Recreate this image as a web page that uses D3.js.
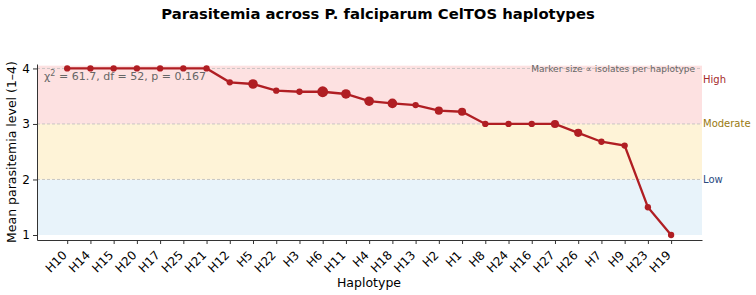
<!DOCTYPE html>
<html>
<head>
<meta charset="utf-8">
<script src="https://cdn.jsdelivr.net/npm/d3@7"></script>
<style>
  body { margin: 0; background: #fff; }
  text { font-family: "DejaVu Sans", sans-serif; }
</style>
</head>
<body>
<div id="chart"></div>
<script>
var haplotypes = ["H10","H14","H15","H20","H17","H25","H21","H12","H5","H22","H3","H6","H11","H4","H18","H13","H2","H1","H8","H24","H16","H27","H26","H7","H9","H23","H19"];
var meanLevel = [4,4,4,4,4,4,4,3.75,3.72,3.6,3.58,3.58,3.54,3.41,3.37,3.34,3.24,3.22,3,3,3,3,2.84,2.68,2.61,1.5,1];
var isolates = [1,1,1,1,1,1,1,1,3,1,1,4,3,3,3,1,2,2,1,1,1,2,2,1,1,1,1];
var bandNames = ["Low","Moderate","High"];
var bandRanges = [[1,2],[2,3],[3,4.05]];
var yTicks = [1,2,3,4];

var W = 756, H = 295;
var margin = {top: 64, right: 54, bottom: 55, left: 37},
    width = W - margin.left - margin.right,
    height = H - margin.top - margin.bottom;

var svg = d3.select("#chart")
  .append("svg")
  .attr("width", W)
  .attr("height", H);

svg.append("text")
  .attr("x", 378).attr("y", 19)
  .attr("text-anchor", "middle")
  .attr("font-size", 14.8).attr("font-weight", "bold")
  .text("Parasitemia across P. falciparum CelTOS haplotypes");

var g = svg.append("g")
  .attr("transform", "translate(" + margin.left + "," + margin.top + ")");

var x = d3.scaleLinear()
  .domain([-1.3, haplotypes.length - 1 + 1.33])
  .range([0, width]);

var y = d3.scaleLinear()
  .domain([0.91, 4.08])
  .range([height, 0]);

var bandFill = ["#e8f3fa", "#fef3d7", "#fde1e1"];
var bandText = ["#2a4a7f", "#9a7a10", "#a52a2a"];

g.selectAll(".band")
  .data(bandRanges)
  .enter().append("rect")
  .attr("x", 0).attr("width", width)
  .attr("y", function(d) { return y(d[1]); })
  .attr("height", function(d) { return y(d[0]) - y(d[1]); })
  .attr("fill", function(d, i) { return bandFill[i]; });

g.selectAll(".grid")
  .data([2,3,4])
  .enter().append("line")
  .attr("x1", 0).attr("x2", width)
  .attr("y1", function(d) { return y(d); })
  .attr("y2", function(d) { return y(d); })
  .attr("stroke", "#bbb").attr("stroke-width", 0.8)
  .attr("stroke-dasharray", "3,2");

// band labels on the right
g.selectAll(".bandlab")
  .data(bandNames)
  .enter().append("text")
  .attr("x", width + 1)
  .attr("y", function(d, i) { return i == 2 ? y(3.8) : y(bandRanges[i][0] + 1); })
  .attr("dy", "0.35em")
  .attr("font-size", 10)
  .attr("fill", function(d, i) { return bandText[i]; })
  .text(function(d) { return d; });

g.append("path")
  .datum(meanLevel)
  .attr("fill", "none")
  .attr("stroke", "#b01e23")
  .attr("stroke-width", 2.3)
  .attr("d", d3.line()
    .x(function(d, i) { return x(i); })
    .y(function(d) { return y(d); }));

g.append("g")
  .selectAll("circle")
  .data(meanLevel)
  .enter().append("circle")
  .attr("cx", function(d, i) { return x(i); })
  .attr("cy", function(d) { return y(d); })
  .attr("r", function(d, i) { return Math.sqrt(3.5 + 6.5 * isolates[i]); })
  .attr("fill", "#b01e23");

var xAxis = g.append("g")
  .attr("transform", "translate(0," + height + ")")
  .call(d3.axisBottom(x).tickValues(d3.range(haplotypes.length))
    .tickFormat(function(i) { return haplotypes[i]; })
    .tickSize(4).tickSizeOuter(0));
xAxis.select(".domain").attr("stroke", "#333");
xAxis.selectAll(".tick line").attr("stroke", "#333");
xAxis.selectAll("text")
  .attr("font-size", 12)
  .attr("fill", "#000")
  .attr("text-anchor", "end")
  .attr("x", 0).attr("y", 0)
  .attr("dy", "0.35em")
  .attr("transform", "translate(-3,13) rotate(-45)");

var yAxis = g.append("g")
  .call(d3.axisLeft(y).tickValues(yTicks).tickFormat(d3.format("d"))
    .tickSize(4).tickSizeOuter(0));
yAxis.select(".domain").attr("stroke", "#333");
yAxis.selectAll(".tick line").attr("stroke", "#333");
yAxis.selectAll("text").attr("font-size", 12).attr("fill", "#000");

g.append("text")
  .attr("x", 7).attr("y", 16)
  .attr("font-size", 11)
  .attr("fill", "#666")
  .html("χ<tspan dy='-4' font-size='8'>2</tspan><tspan dy='4'> = 61.7, df = 52, p = 0.167</tspan>");

g.append("text")
  .attr("x", width - 7).attr("y", 8)
  .attr("text-anchor", "end")
  .attr("font-size", 9)
  .attr("fill", "#666")
  .text("Marker size ∝ isolates per haplotype");

svg.append("text")
  .attr("transform", "translate(16," + (margin.top + height / 2) + ") rotate(-90)")
  .attr("text-anchor", "middle")
  .attr("font-size", 12.5)
  .text("Mean parasitemia level (1–4)");

svg.append("text")
  .attr("x", 369).attr("y", 287)
  .attr("text-anchor", "middle")
  .attr("font-size", 12.5)
  .text("Haplotype");
</script>
</body>
</html>
